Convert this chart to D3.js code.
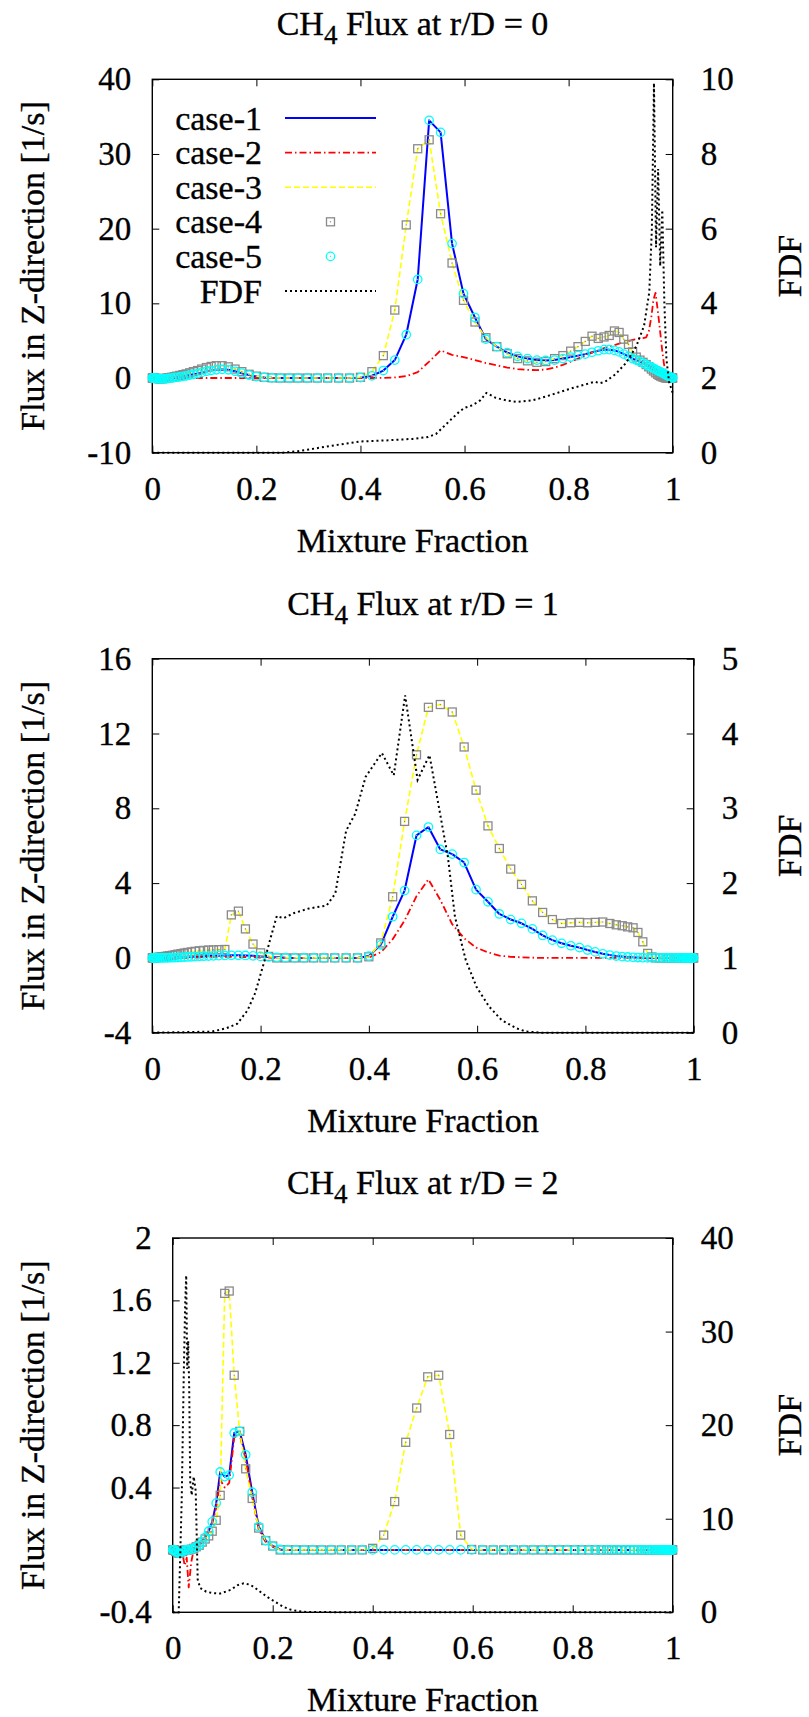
<!DOCTYPE html>
<html><head><meta charset="utf-8">
<script src="https://cdnjs.cloudflare.com/ajax/libs/d3/7.8.5/d3.min.js"></script>
<style>
body{margin:0;background:#fff}
svg{display:block;font-family:'Liberation Serif',serif}
svg text{font-family:'Liberation Serif',serif !important;fill:#000;stroke:#000;stroke-width:0.35px}
</style>
</head><body>
<svg id="c" width="809" height="1717"></svg>
<script>
// ---- shared mixture-fraction grid (x of every case point) ----
const zGrid = [
 0, 0.001, 0.002, 0.004, 0.006, 0.008, 0.011, 0.014, 0.017, 0.02,
 0.024, 0.028, 0.032, 0.037, 0.042, 0.047, 0.053, 0.059, 0.065, 0.072,
 0.079, 0.087, 0.095, 0.104, 0.113, 0.123, 0.134, 0.146, 0.159, 0.172,
 0.186, 0.2, 0.215, 0.23, 0.246, 0.263, 0.28, 0.298, 0.317, 0.337,
 0.358, 0.379, 0.4, 0.422, 0.444, 0.466, 0.488, 0.51, 0.532, 0.554,
 0.576, 0.598, 0.62, 0.641, 0.662, 0.682, 0.702, 0.721, 0.739, 0.756,
 0.773, 0.789, 0.804, 0.818, 0.832, 0.845, 0.857, 0.868, 0.878, 0.888,
 0.897, 0.906, 0.915, 0.923, 0.93, 0.937, 0.943, 0.949, 0.954, 0.959,
 0.963, 0.967, 0.971, 0.974, 0.977, 0.98, 0.983, 0.985, 0.987, 0.989,
 0.991, 0.993, 0.995, 0.997, 0.998, 0.999, 1
];
const xTicks = [0, 0.2, 0.4, 0.6, 0.8, 1];
const xTickLabels = ["0", "0.2", "0.4", "0.6", "0.8", "1"];
const seriesNames = ["case-1", "case-2", "case-3", "case-4", "case-5", "FDF"];

// ---- r/D = 0 ----
const r0Case1 = [
 0, 0, 0, -0.02, -0.04, -0.06, -0.08, -0.1, -0.1, -0.1,
 -0.1, -0.08, -0.05, 0, 0.05, 0.1, 0.15, 0.22, 0.3, 0.4,
 0.5, 0.6, 0.75, 0.9, 1.0, 1.1, 1.15, 1.1, 0.9, 0.65,
 0.4, 0.2, 0.08, 0.02, 0, 0, 0, 0, 0, 0,
 0, 0, 0.05, 0.3, 1.0, 2.4, 5.8, 13.2, 34.5, 32.9,
 18, 11.3, 8.1, 5.2, 4.2, 3.4, 2.9, 2.6, 2.4, 2.35,
 2.4, 2.6, 2.8, 3.0, 3.2, 3.45, 3.65, 3.8, 3.8, 3.7,
 3.5, 3.2, 2.9, 2.6, 2.4, 2.2, 2.0, 1.8, 1.6, 1.45,
 1.3, 1.15, 1.0, 0.9, 0.8, 0.7, 0.6, 0.5, 0.42, 0.35,
 0.28, 0.2, 0.15, 0.1, 0.06, 0.03, 0
];
const r0Case2 = [
 0, 0, 0, 0, 0, 0, 0, 0, 0, 0,
 0, 0, 0, 0, 0, 0, 0, 0, 0, 0,
 0, 0, 0, 0, 0, 0, 0, 0, 0, 0,
 0, 0, 0, 0, 0, 0, 0, 0, 0, 0,
 0, 0, 0, 0, 0.02, 0.08, 0.25, 0.8, 2.2, 3.7,
 3.1, 2.8, 2.4, 2.0, 1.7, 1.4, 1.2, 1.1, 1.05, 1.15,
 1.4, 1.75, 2.2, 2.6, 3.0, 3.4, 3.7, 4.0, 4.2, 4.4,
 4.6, 4.8, 4.95, 5.1, 5.2, 5.3, 5.35, 5.45, 6.2, 8.2,
 10.5, 11.4, 9.2, 7.4, 5.5, 3.6, 2.0, 1.2, 0.6, 0.25,
 0.1, 0, 0, 0, 0, 0, 0
];
const r0Case3 = [
 0, 0, 0, -0.02, -0.04, -0.06, -0.08, -0.1, -0.1, -0.08,
 -0.05, 0, 0.05, 0.1, 0.17, 0.25, 0.35, 0.45, 0.55, 0.7,
 0.85, 1.0, 1.2, 1.4, 1.55, 1.65, 1.65, 1.5, 1.2, 0.85,
 0.5, 0.25, 0.1, 0.03, 0, 0, 0, 0, 0, 0,
 0, 0, 0.1, 0.85, 3.0, 9.1, 20.5, 30.7, 31.9, 22,
 15.4, 10.4, 7.5, 5.4, 4.2, 3.25, 2.6, 2.3, 2.1, 2.2,
 2.6, 3.0, 3.6, 4.2, 4.9, 5.6, 5.3, 5.5, 5.7, 6.3,
 6.1, 5.2, 4.5, 3.5, 2.8, 2.4, 2.1, 1.8, 1.5, 1.2,
 0.95, 0.7, 0.5, 0.35, 0.25, 0.15, 0.1, 0.05, 0, 0,
 0, 0, 0, 0, 0, 0, 0
];
const r0Case4 = r0Case3;   // squares sit on the case-3 curve
const r0Case5 = r0Case1;   // circles sit on the case-1 curve
const r0FdfX = [0, 0.25, 0.28, 0.32, 0.36, 0.4, 0.45, 0.5, 0.53, 0.545, 0.56, 0.575, 0.59, 0.6, 0.615,
 0.63, 0.642, 0.66, 0.68, 0.7, 0.73, 0.76, 0.8, 0.83, 0.85, 0.86, 0.87, 0.89, 0.91, 0.93,
 0.945, 0.955, 0.96, 0.964, 0.968, 0.972, 0.976, 0.98, 0.984, 0.988, 0.993, 1];
const r0Fdf = [0, 0, 0.04, 0.13, 0.22, 0.3, 0.33, 0.37, 0.42, 0.5, 0.7, 0.9, 1.1, 1.2, 1.27,
 1.4, 1.6, 1.47, 1.4, 1.36, 1.4, 1.52, 1.7, 1.82, 1.9, 1.86, 1.9, 2.1, 2.4, 2.85,
 3.4, 4.3, 6, 9.9, 5.5, 7.6, 5.0, 6.5, 4.0, 2.5, 1.9, 1.6];
const r0YTicks = [-10, 0, 10, 20, 30, 40];
const r0YTickLabels = ["-10", "0", "10", "20", "30", "40"];
const r0Y2Ticks = [0, 2, 4, 6, 8, 10];
const r0Y2TickLabels = ["0", "2", "4", "6", "8", "10"];

// ---- r/D = 1 ----
const r1Case1 = [
 0, 0, 0, 0, 0, 0, 0, 0, 0, 0,
 0, 0, 0.01, 0.01, 0.02, 0.02, 0.03, 0.04, 0.05, 0.06,
 0.07, 0.08, 0.09, 0.1, 0.11, 0.12, 0.13, 0.14, 0.14, 0.13,
 0.11, 0.08, 0.05, 0.03, 0.01, 0, 0, 0, 0, 0,
 0, 0, 0.1, 0.7, 2.2, 3.6, 6.55, 7.0, 5.8, 5.55,
 5.1, 3.65, 3.0, 2.35, 2.05, 1.85, 1.55, 1.2, 0.95, 0.78,
 0.65, 0.55, 0.42, 0.32, 0.22, 0.15, 0.1, 0.07, 0.05, 0.03,
 0.02, 0.01, 0, 0, 0, 0, 0, 0, 0, 0,
 0, 0, 0, 0, 0, 0, 0, 0, 0, 0,
 0, 0, 0, 0, 0, 0, 0
];
const r1Case2 = [
 0, 0, 0, 0, 0, 0, 0, 0, 0, 0,
 0, 0, 0, 0, 0, 0, 0, 0, 0, 0,
 0.02, 0.03, 0.04, 0.05, 0.05, 0.06, 0.06, 0.06, 0.05, 0.04,
 0.03, 0.02, 0.01, 0, 0, 0, 0, 0, 0, 0,
 0, 0, 0.02, 0.3, 1.0, 2.0, 3.3, 4.2, 3.1, 1.8,
 1.05, 0.55, 0.3, 0.12, 0.06, 0.03, 0.01, 0, 0, 0,
 0, 0, 0, 0, 0, 0, 0, 0, 0, 0,
 0, 0, 0, 0, 0, 0, 0, 0, 0, 0,
 0, 0, 0, 0, 0, 0, 0, 0, 0, 0,
 0, 0, 0, 0, 0, 0, 0
];
const r1Case3 = [
 0, 0, 0, 0.01, 0.01, 0.02, 0.03, 0.04, 0.05, 0.06,
 0.08, 0.1, 0.12, 0.14, 0.17, 0.2, 0.23, 0.26, 0.29, 0.32,
 0.35, 0.38, 0.4, 0.42, 0.43, 0.44, 0.45, 2.3, 2.5, 1.55,
 0.74, 0.27, 0.08, 0, 0, 0, 0, 0, 0, 0,
 0, 0, 0.06, 0.8, 3.27, 7.3, 10.86, 13.4, 13.55, 13.15,
 11.28, 8.97, 7.06, 5.85, 4.75, 3.93, 3.05, 2.43, 2.05, 1.84,
 1.88, 1.9, 1.88, 1.9, 1.92, 1.84, 1.77, 1.72, 1.66, 1.61,
 1.36, 0.86, 0.24, 0.05, 0, 0, 0, 0, 0, 0,
 0, 0, 0, 0, 0, 0, 0, 0, 0, 0,
 0, 0, 0, 0, 0, 0, 0
];
const r1Case4 = r1Case3;
const r1Case5 = r1Case1;
const r1FdfX = [0, 0.08, 0.11, 0.137, 0.157, 0.176, 0.19, 0.206, 0.219, 0.23, 0.242, 0.262, 0.289, 0.322,
 0.338, 0.358, 0.375, 0.394, 0.424, 0.446, 0.467, 0.49, 0.512, 0.526, 0.546, 0.559, 0.579, 0.599,
 0.622, 0.645, 0.672, 0.69, 0.72, 1];
const r1Fdf = [0, 0.01, 0.015, 0.06, 0.12, 0.3, 0.53, 0.93, 1.28, 1.56, 1.53, 1.6, 1.66, 1.7,
 1.86, 2.7, 2.93, 3.42, 3.74, 3.44, 4.51, 3.38, 3.71, 3.15, 2.35, 1.55, 0.97, 0.61,
 0.35, 0.17, 0.06, 0.015, 0, 0];
const r1YTicks = [-4, 0, 4, 8, 12, 16];
const r1YTickLabels = ["-4", "0", "4", "8", "12", "16"];
const r1Y2Ticks = [0, 1, 2, 3, 4, 5];
const r1Y2TickLabels = ["0", "1", "2", "3", "4", "5"];

// ---- r/D = 2 ----
const r2Case1 = [
 0, 0, 0, 0, -0.01, -0.01, -0.02, -0.02, -0.01, -0.01,
 0, 0, 0, 0.005, 0.01, 0.02, 0.03, 0.05, 0.08, 0.12,
 0.18, 0.3, 0.5, 0.47, 0.48, 0.75, 0.76, 0.61, 0.37, 0.15,
 0.06, 0.025, 0.003, 0, 0, 0, 0, 0, 0, 0,
 0, 0, 0, 0, 0, 0, 0, 0, 0, 0,
 0, 0, 0, 0, 0, 0, 0, 0, 0, 0,
 0, 0, 0, 0, 0, 0, 0, 0, 0, 0,
 0, 0, 0, 0, 0, 0, 0, 0, 0, 0,
 0, 0, 0, 0, 0, 0, 0, 0, 0, 0,
 0, 0, 0, 0, 0, 0, 0
];
const r2Case2 = [
 0, 0, 0, 0, 0, -0.01, -0.01, -0.02, -0.02, -0.03,
 -0.1, -0.05, -0.24, -0.08, 0, 0.01, 0.03, 0.06, 0.09, 0.12,
 0.17, 0.27, 0.45, 0.4, 0.43, 0.72, 0.74, 0.58, 0.34, 0.13,
 0.05, 0.02, 0, 0, 0, 0, 0, 0, 0, 0,
 0, 0, 0, 0, 0, 0, 0, 0, 0, 0,
 0, 0, 0, 0, 0, 0, 0, 0, 0, 0,
 0, 0, 0, 0, 0, 0, 0, 0, 0, 0,
 0, 0, 0, 0, 0, 0, 0, 0, 0, 0,
 0, 0, 0, 0, 0, 0, 0, 0, 0, 0,
 0, 0, 0, 0, 0, 0, 0
];
const r2Case3 = [
 0, 0, 0, 0, -0.01, -0.01, -0.02, -0.02, -0.01, -0.01,
 0, 0, 0, 0.005, 0.01, 0.02, 0.03, 0.05, 0.07, 0.09,
 0.12, 0.19, 0.35, 1.645, 1.66, 1.12, 0.76, 0.52, 0.33, 0.14,
 0.06, 0.025, 0, 0, 0, 0, 0, 0, 0, 0,
 0, 0, 0.01, 0.095, 0.31, 0.69, 0.91, 1.11, 1.12, 0.74,
 0.095, 0.003, 0, 0, 0, 0, 0, 0, 0, 0,
 0, 0, 0, 0, 0, 0, 0, 0, 0, 0,
 0, 0, 0, 0, 0, 0, 0, 0, 0, 0,
 0, 0, 0, 0, 0, 0, 0, 0, 0, 0,
 0, 0, 0, 0, 0, 0, 0
];
const r2Case4 = r2Case3;
const r2Case5 = r2Case1;
const r2FdfX = [0, 0.012, 0.018, 0.022, 0.025, 0.027, 0.029, 0.031, 0.033, 0.035, 0.038, 0.042, 0.046,
 0.05, 0.055, 0.067, 0.08, 0.095, 0.116, 0.13, 0.142, 0.155, 0.165, 0.18, 0.193, 0.21, 0.221,
 0.235, 0.249, 0.27, 1];
const r2Fdf = [0, 0, 12, 25, 33, 36, 26, 29, 24, 14, 12.5, 14.5, 13,
 3.5, 2.6, 2.2, 2.05, 2.0, 2.4, 2.9, 3.1, 2.95, 2.6, 2.0, 1.5, 0.95, 0.6,
 0.3, 0.14, 0.02, 0];
const r2YTicks = [-0.4, 0, 0.4, 0.8, 1.2, 1.6, 2];
const r2YTickLabels = ["-0.4", "0", "0.4", "0.8", "1.2", "1.6", "2"];
const r2Y2Ticks = [0, 10, 20, 30, 40];
const r2Y2TickLabels = ["0", "10", "20", "30", "40"];

// ---- layout (not data) ----
const panels = [
  {rd: "0", c: [r0Case1, r0Case2, r0Case3, r0Case4, r0Case5], fx: r0FdfX, fv: r0Fdf,
   yt: r0YTicks, yl: r0YTickLabels, y2t: r0Y2Ticks, y2l: r0Y2TickLabels,
   l: 152.3, r: 672.7, t: 79.3, b: 452.7, legend: true},
  {rd: "1", c: [r1Case1, r1Case2, r1Case3, r1Case4, r1Case5], fx: r1FdfX, fv: r1Fdf,
   yt: r1YTicks, yl: r1YTickLabels, y2t: r1Y2Ticks, y2l: r1Y2TickLabels,
   l: 152.3, r: 693.7, t: 658.7, b: 1032.7, legend: false},
  {rd: "2", c: [r2Case1, r2Case2, r2Case3, r2Case4, r2Case5], fx: r2FdfX, fv: r2Fdf,
   yt: r2YTicks, yl: r2YTickLabels, y2t: r2Y2Ticks, y2l: r2Y2TickLabels,
   l: 172.7, r: 672.7, t: 1238, b: 1612.3, legend: false}
];

const style = {
  c1: {stroke: "#0000ff", width: 2, dash: null},
  c2: {stroke: "#ff0000", width: 1.8, dash: "7,3,1.5,3"},
  c3: {stroke: "#ffff00", width: 1.6, dash: "6,3"},
  sq: "#8a8a8a", ci: "#00ffff",
  fdf: {stroke: "#000", width: 2, dash: "2,3"}
};
const FONT = "'Liberation Serif', serif";

const svg = d3.select("#c");
const TICK = 33, LAB = 34;

function drawSquare(g, cx, cy) {
  g.append("rect").attr("x", cx - 4).attr("y", cy - 4).attr("width", 8).attr("height", 8)
    .attr("fill", "none").attr("stroke", style.sq).attr("stroke-width", 1.3);
  g.append("rect").attr("x", cx - 0.6).attr("y", cy - 0.6).attr("width", 1.2).attr("height", 1.2)
    .attr("fill", style.sq);
}
function drawCircle(g, cx, cy) {
  g.append("circle").attr("cx", cx).attr("cy", cy).attr("r", 4.2)
    .attr("fill", "none").attr("stroke", style.ci).attr("stroke-width", 1.3);
  g.append("rect").attr("x", cx - 0.6).attr("y", cy - 0.6).attr("width", 1.2).attr("height", 1.2)
    .attr("fill", style.ci);
}

panels.forEach(p => {
  const g = svg.append("g");
  const x = d3.scaleLinear().domain([0, 1]).range([p.l, p.r]);
  const y = d3.scaleLinear().domain([p.yt[0], p.yt[p.yt.length - 1]]).range([p.b, p.t]);
  const y2 = d3.scaleLinear().domain([p.y2t[0], p.y2t[p.y2t.length - 1]]).range([p.b, p.t]);

  // axes
  const ax = [
    g.append("g").attr("transform", `translate(0,${p.b})`)
      .call(d3.axisBottom(x).tickValues(xTicks).tickFormat((d, i) => xTickLabels[i])
        .tickSizeInner(-7).tickSizeOuter(0).tickPadding(23.6)),
    g.append("g").attr("transform", `translate(0,${p.t})`)
      .call(d3.axisTop(x).tickValues(xTicks).tickFormat("").tickSizeInner(-7).tickSizeOuter(0)),
    g.append("g").attr("transform", `translate(${p.l},0)`)
      .call(d3.axisLeft(y).tickValues(p.yt).tickFormat((d, i) => p.yl[i])
        .tickSizeInner(-7).tickSizeOuter(0).tickPadding(21)),
    g.append("g").attr("transform", `translate(${p.r},0)`)
      .call(d3.axisRight(y2).tickValues(p.y2t).tickFormat((d, i) => p.y2l[i])
        .tickSizeInner(-7).tickSizeOuter(0).tickPadding(28))
  ];
  ax.forEach(a => {
    a.attr("font-family", FONT).attr("font-size", TICK);
    a.select(".domain").remove();
    a.selectAll("line").attr("stroke", "#000").attr("stroke-width", 1);
    a.selectAll("text").attr("fill", "#000");
  });
  g.append("rect").attr("x", p.l).attr("y", p.t).attr("width", p.r - p.l).attr("height", p.b - p.t)
    .attr("fill", "none").attr("stroke", "#000").attr("stroke-width", 1.4);

  // titles / labels
  const cx = (p.l + p.r) / 2, cy = (p.t + p.b) / 2;
  const tt = g.append("text").attr("x", cx).attr("y", p.t - 44).attr("text-anchor", "middle")
    .attr("font-size", LAB);
  tt.append("tspan").text("CH");
  tt.append("tspan").attr("font-size", 27).attr("dy", 9).text("4");
  tt.append("tspan").attr("dy", -9).text(" Flux at r/D = " + p.rd);
  g.append("text").attr("x", cx).attr("y", p.b + 99).attr("text-anchor", "middle")
    .attr("font-size", LAB).text("Mixture Fraction");
  g.append("text").attr("transform", `translate(44,${cy}) rotate(-90)`).attr("text-anchor", "middle")
    .attr("font-size", LAB).text("Flux in Z-direction [1/s]");
  g.append("text").attr("transform", `translate(801,${cy}) rotate(-90)`).attr("text-anchor", "middle")
    .attr("font-size", LAB).text("FDF");

  // series lines
  const line = arr => d3.line().x((d, i) => x(zGrid[i])).y(d => y(d))(arr);
  [[p.c[0], style.c1], [p.c[1], style.c2], [p.c[2], style.c3]].forEach(([arr, s]) => {
    g.append("path").attr("d", line(arr)).attr("fill", "none").attr("stroke", s.stroke)
      .attr("stroke-width", s.width).attr("stroke-dasharray", s.dash)
      .attr("stroke-linejoin", "round");
  });
  const gs = g.append("g");
  p.c[3].forEach((v, i) => drawSquare(gs, x(zGrid[i]), y(v)));
  const gc = g.append("g");
  p.c[4].forEach((v, i) => drawCircle(gc, x(zGrid[i]), y(v)));
  const fline = d3.line().x((d, i) => x(p.fx[i])).y(d => y2(d));
  g.append("path").attr("d", fline(p.fv)).attr("fill", "none").attr("stroke", style.fdf.stroke)
    .attr("stroke-width", style.fdf.width).attr("stroke-dasharray", style.fdf.dash);

  // legend
  if (p.legend) {
    const lg = g.append("g");
    seriesNames.forEach((name, i) => {
      const by = 129.5 + i * 34.6, ly = by - 11.5;
      lg.append("text").attr("x", 262).attr("y", by).attr("text-anchor", "end")
        .attr("font-size", LAB).text(name);
      if (i === 0 || i === 1 || i === 2 || i === 5) {
        const s = [style.c1, style.c2, style.c3, null, null, style.fdf][i];
        lg.append("line").attr("x1", 285).attr("x2", 376).attr("y1", ly).attr("y2", ly)
          .attr("stroke", s.stroke).attr("stroke-width", s.width).attr("stroke-dasharray", s.dash);
      } else if (i === 3) drawSquare(lg, 330.5, ly);
      else drawCircle(lg, 330.5, ly);
    });
  }
});
svg.selectAll("text").attr("font-family", FONT).style("font-family", FONT);
</script>
</body></html>
